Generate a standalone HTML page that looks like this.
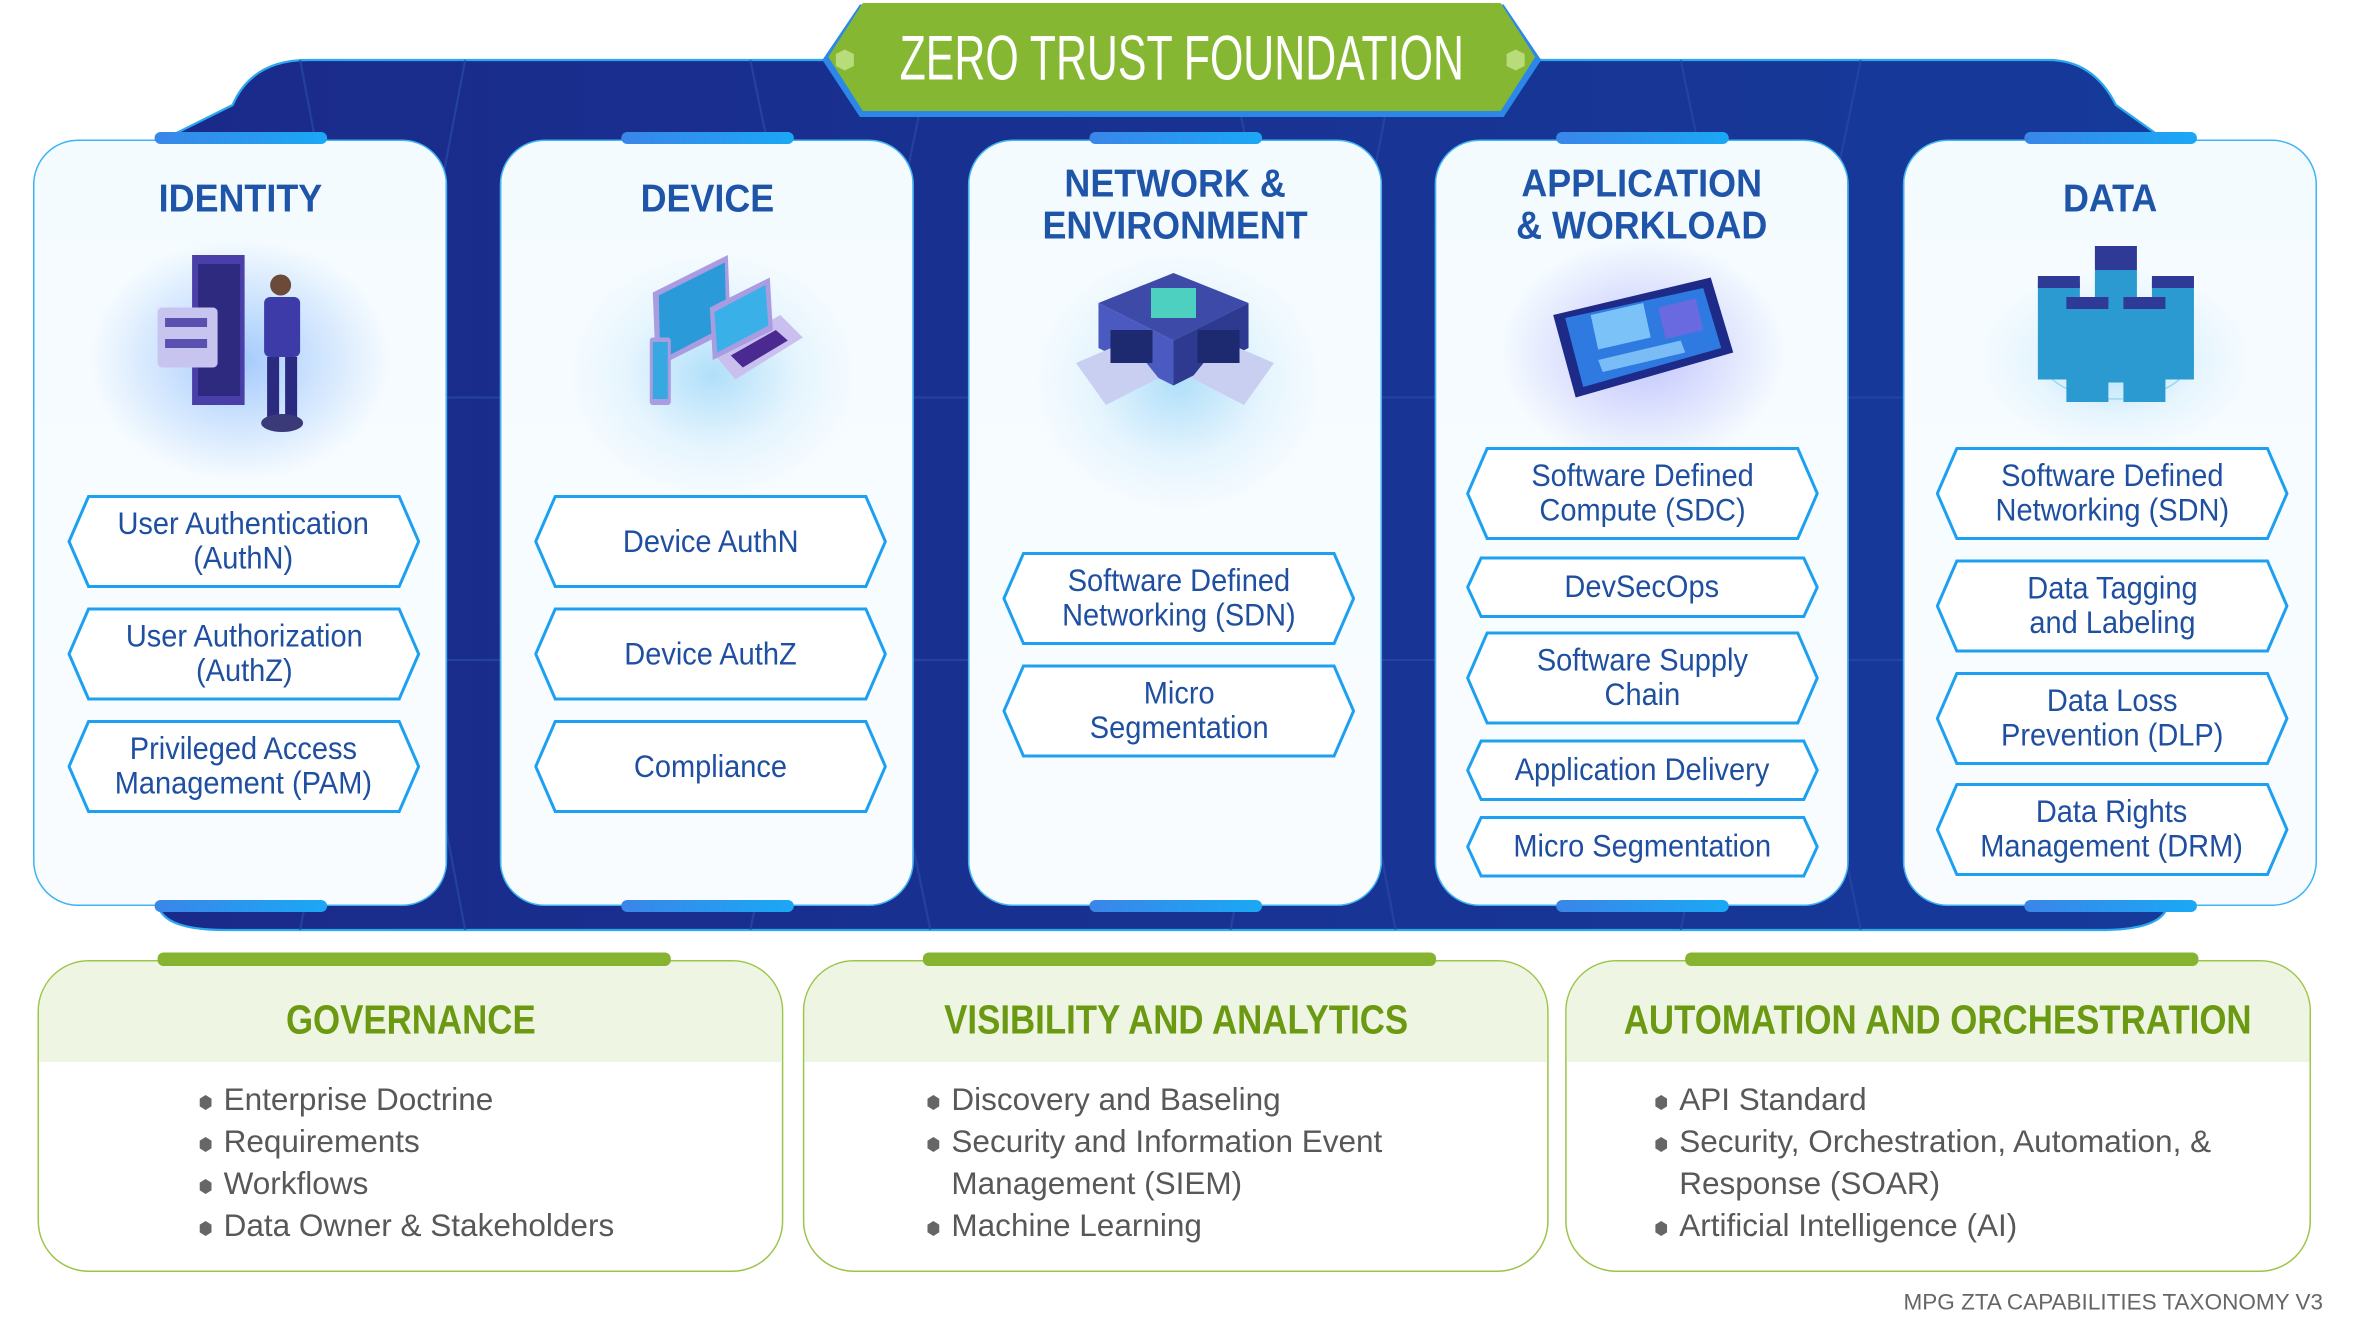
<!DOCTYPE html>
<html><head><meta charset="utf-8">
<style>
body{margin:0;width:2353px;height:1338px;overflow:hidden;background:#fff;}
#w{position:absolute;left:0;top:0;width:1568px;height:892px;transform-origin:0 0;transform:scale(1.50064,1.5);font-family:"Liberation Sans",sans-serif;}
.a{position:absolute;}
.panel{position:absolute;top:93px;width:276px;height:511px;border:1.5px solid #3fb4f5;border-radius:30px;background:linear-gradient(#f4fbff,#f9fcff);box-sizing:border-box;}
.tab{position:absolute;height:8px;width:115px;border-radius:4px;background:linear-gradient(90deg,#3a86e8,#1aa8f5);}
.ttl{position:absolute;width:276px;text-align:center;color:#1f55a8;font-weight:bold;font-size:26px;line-height:28px;}
.ttl span{display:inline-block;transform:scaleX(.92);}
.pill{position:absolute;width:235px;display:flex;align-items:center;justify-content:center;text-align:center;color:#1f4fa0;font-size:21px;line-height:23px;}
.pill svg{position:absolute;left:0;top:0;width:100%;height:100%;}
.pill span{position:relative;display:inline-block;transform:scaleX(.92);}
.glow{position:absolute;border-radius:50%;background:radial-gradient(closest-side,rgba(120,200,245,.55),rgba(180,225,250,.25) 60%,rgba(255,255,255,0));}
.box{position:absolute;top:640px;width:497px;height:208px;border:1.5px solid #9cc54a;border-radius:34px;background:#fff;box-sizing:border-box;overflow:hidden;}
.box .hd{height:67px;background:#eef5e2;color:#6b9a12;font-weight:bold;font-size:27px;line-height:78px;text-align:center;white-space:nowrap;}
.box .hd span{display:inline-block;transform:scaleX(.86);}
.gtab{position:absolute;top:635px;height:9px;border-radius:4px;background:#86b330;}
ul{margin:0;padding:0;list-style:none;position:absolute;top:720px;color:#585858;font-size:21px;line-height:28px;}
li{position:relative;padding-left:16px;}
li:before{content:"";position:absolute;left:0;top:10px;width:8px;height:10px;background:#666;clip-path:polygon(50% 0,100% 25%,100% 75%,50% 100%,0 75%,0 25%);}
</style></head><body><div id="w">
<svg class="a" style="left:0;top:0" width="1568" height="640">
<defs><linearGradient id="bg" x1="0" x2="1"><stop offset="0" stop-color="#1a2a8a"/><stop offset="1" stop-color="#163a9a"/></linearGradient></defs>
<path d="M105 95 L155 70 Q168 40 205 40 L1365 40 Q1395 40 1410 70 L1445 95 L1445 600 Q1445 620 1400 620 L150 620 Q105 620 105 600 Z" fill="url(#bg)" stroke="#2aa8f0" stroke-width="1.5"/>
<g stroke="#2a48a8" stroke-width="1.5" fill="none" opacity=".7">
<path d="M200 40 L310 620 M310 40 L200 620 M500 40 L620 620 M620 40 L500 620 M820 40 L930 620 M930 40 L820 620 M1120 40 L1240 620 M1240 40 L1120 620 M130 265 L1440 265 M130 440 L1440 440"/></g>
</svg>
<svg class="a" style="left:545px;top:0" width="485" height="82">
<polygon points="28,3 457,3 482,40 457,78 28,78 3,40" fill="#2b88e8"/>
<polygon points="30,2 455,2 478,38 455,74 30,74 7,38" fill="#86b733"/>
<polygon points="18,33 24,36 24,44 18,47 12,44 12,36" fill="#b9dc7a"/>
<polygon points="465,33 471,36 471,44 465,47 459,44 459,36" fill="#b9dc7a"/>
</svg>
<div class="a" style="left:550px;top:14px;width:475px;display:flex;justify-content:center;color:#fff;font-size:42px;line-height:50px;white-space:nowrap;"><span style="display:inline-block;flex:none;transform:scaleX(.68)">ZERO TRUST FOUNDATION</span></div>

<div class="panel" style="left:22px"></div><div class="panel" style="left:333px"></div><div class="panel" style="left:645px"></div><div class="panel" style="left:956px"></div><div class="panel" style="left:1268px"></div>
<div class="tab" style="left:103px;top:88px"></div><div class="tab" style="left:414px;top:88px"></div><div class="tab" style="left:726px;top:88px"></div><div class="tab" style="left:1037px;top:88px"></div><div class="tab" style="left:1349px;top:88px"></div>
<div class="tab" style="left:103px;top:600px"></div><div class="tab" style="left:414px;top:600px"></div><div class="tab" style="left:726px;top:600px"></div><div class="tab" style="left:1037px;top:600px"></div><div class="tab" style="left:1349px;top:600px"></div>

<div class="ttl" style="left:22px;top:118px"><span>IDENTITY</span></div>
<div class="ttl" style="left:333px;top:118px"><span>DEVICE</span></div>
<div class="ttl" style="left:645px;top:108px"><span>NETWORK &amp;<br>ENVIRONMENT</span></div>
<div class="ttl" style="left:956px;top:108px"><span>APPLICATION<br>&amp; WORKLOAD</span></div>
<div class="ttl" style="left:1268px;top:118px"><span>DATA</span></div>

<div class="glow" style="left:60px;top:160px;width:200px;height:160px;background:radial-gradient(closest-side,rgba(110,170,250,.6),rgba(255,255,255,0))"></div>
<svg class="a" style="left:100px;top:160px" width="140" height="150">
<rect x="28" y="10" width="35" height="100" fill="#4a3fa8"/><rect x="32" y="16" width="28" height="88" fill="#2d2a80"/>
<rect x="5" y="45" width="40" height="40" rx="3" fill="#c7c4ef"/><rect x="10" y="52" width="28" height="6" fill="#5a50b0"/><rect x="10" y="66" width="28" height="6" fill="#5a50b0"/>
<circle cx="87" cy="30" r="7" fill="#6b4a3a"/><rect x="76" y="38" width="24" height="40" rx="4" fill="#3d3ba8"/><rect x="78" y="78" width="8" height="40" fill="#2a2a80"/><rect x="90" y="78" width="8" height="40" fill="#2a2a80"/>
<ellipse cx="88" cy="122" rx="14" ry="6" fill="#3a3a78"/></svg>

<div class="glow" style="left:380px;top:170px;width:190px;height:160px"></div>
<svg class="a" style="left:425px;top:165px" width="115" height="110">
<polygon points="10,30 60,5 62,55 12,80" fill="#a99ce0"/><polygon points="14,32 58,10 59,52 15,75" fill="#2a9ad8"/>
<rect x="8" y="60" width="14" height="45" rx="2" fill="#a99ce0"/><rect x="10" y="63" width="10" height="38" fill="#38a8e0"/>
<polygon points="50,70 95,45 110,60 65,88" fill="#c9c0ef"/><polygon points="48,40 88,20 90,55 50,75" fill="#a99ce0"/><polygon points="51,43 85,25 87,52 53,70" fill="#3ab0e8"/>
<polygon points="62,72 92,55 100,62 70,80" fill="#4a2a90"/></svg>

<div class="glow" style="left:690px;top:170px;width:190px;height:170px"></div>
<svg class="a" style="left:712px;top:182px" width="142" height="100">
<polygon points="20,20 70,0 120,20 70,45" fill="#3d4aa8"/><polygon points="20,20 70,45 70,75 20,50" fill="#4a5ac0"/><polygon points="120,20 70,45 70,75 120,50" fill="#2d3a90"/>
<rect x="55" y="10" width="30" height="20" fill="#4dd0c0"/>
<polygon points="5,60 40,45 60,70 25,88" fill="#c8cff0"/><polygon points="137,60 102,45 82,70 117,88" fill="#c8cff0"/>
<rect x="28" y="38" width="28" height="22" fill="#1e2a70"/><rect x="86" y="38" width="28" height="22" fill="#1e2a70"/></svg>

<div class="glow" style="left:1000px;top:160px;width:190px;height:150px;background:radial-gradient(closest-side,rgba(140,140,250,.5),rgba(255,255,255,0))"></div>
<svg class="a" style="left:1025px;top:180px" width="140" height="95">
<polygon points="10,30 115,5 130,55 25,85" fill="#1d2a88"/><polygon points="18,32 110,12 122,52 30,78" fill="#2e7ae0"/>
<polygon points="35,30 70,22 75,45 40,53" fill="#8fd4ff" opacity=".8"/><polygon points="80,25 105,19 110,40 85,46" fill="#6a6ae0"/>
<polygon points="40,60 95,47 98,55 43,68" fill="#9ad8ff" opacity=".7"/></svg>

<div class="glow" style="left:1320px;top:180px;width:180px;height:120px"></div>
<svg class="a" style="left:1350px;top:158px" width="120" height="130">
<ellipse cx="60" cy="80" rx="50" ry="28" fill="none" stroke="#9ad8f0" stroke-width="1"/>
<g fill="#2a9ad0"><rect x="8" y="30" width="28" height="65"/><rect x="46" y="22" width="28" height="75"/><rect x="84" y="30" width="28" height="65"/><rect x="27" y="45" width="28" height="65"/><rect x="65" y="45" width="28" height="65"/></g>
<g fill="#2e3a96"><rect x="8" y="26" width="28" height="8"/><rect x="46" y="6" width="28" height="16"/><rect x="84" y="26" width="28" height="8"/><rect x="27" y="40" width="28" height="8"/><rect x="65" y="40" width="28" height="8"/></g>
</svg>

<div class="pill" style="left:45px;top:330px;height:62px"><svg viewBox="0 0 235 62" preserveAspectRatio="none"><polygon points="14,1 221,1 234,31 221,61 14,61 1,31" fill="#fff" stroke="#1ea0f0" stroke-width="2"/></svg><span>User Authentication<br>(AuthN)</span></div>
<div class="pill" style="left:45px;top:405px;height:62px"><svg viewBox="0 0 235 62" preserveAspectRatio="none"><polygon points="14,1 221,1 234,31 221,61 14,61 1,31" fill="#fff" stroke="#1ea0f0" stroke-width="2"/></svg><span>User Authorization<br>(AuthZ)</span></div>
<div class="pill" style="left:45px;top:480px;height:62px"><svg viewBox="0 0 235 62" preserveAspectRatio="none"><polygon points="14,1 221,1 234,31 221,61 14,61 1,31" fill="#fff" stroke="#1ea0f0" stroke-width="2"/></svg><span>Privileged Access<br>Management (PAM)</span></div>

<div class="pill" style="left:356px;top:330px;height:62px"><svg viewBox="0 0 235 62" preserveAspectRatio="none"><polygon points="14,1 221,1 234,31 221,61 14,61 1,31" fill="#fff" stroke="#1ea0f0" stroke-width="2"/></svg><span>Device AuthN</span></div>
<div class="pill" style="left:356px;top:405px;height:62px"><svg viewBox="0 0 235 62" preserveAspectRatio="none"><polygon points="14,1 221,1 234,31 221,61 14,61 1,31" fill="#fff" stroke="#1ea0f0" stroke-width="2"/></svg><span>Device AuthZ</span></div>
<div class="pill" style="left:356px;top:480px;height:62px"><svg viewBox="0 0 235 62" preserveAspectRatio="none"><polygon points="14,1 221,1 234,31 221,61 14,61 1,31" fill="#fff" stroke="#1ea0f0" stroke-width="2"/></svg><span>Compliance</span></div>

<div class="pill" style="left:668px;top:368px;height:62px"><svg viewBox="0 0 235 62" preserveAspectRatio="none"><polygon points="14,1 221,1 234,31 221,61 14,61 1,31" fill="#fff" stroke="#1ea0f0" stroke-width="2"/></svg><span>Software Defined<br>Networking (SDN)</span></div>
<div class="pill" style="left:668px;top:443px;height:62px"><svg viewBox="0 0 235 62" preserveAspectRatio="none"><polygon points="14,1 221,1 234,31 221,61 14,61 1,31" fill="#fff" stroke="#1ea0f0" stroke-width="2"/></svg><span>Micro<br>Segmentation</span></div>

<div class="pill" style="left:977px;top:298px;height:62px"><svg viewBox="0 0 235 62" preserveAspectRatio="none"><polygon points="14,1 221,1 234,31 221,61 14,61 1,31" fill="#fff" stroke="#1ea0f0" stroke-width="2"/></svg><span>Software Defined<br>Compute (SDC)</span></div>
<div class="pill" style="left:977px;top:371px;height:41px"><svg viewBox="0 0 235 41" preserveAspectRatio="none"><polygon points="10,1 225,1 234,20.5 225,40 10,40 1,20.5" fill="#fff" stroke="#1ea0f0" stroke-width="2"/></svg><span>DevSecOps</span></div>
<div class="pill" style="left:977px;top:421px;height:62px"><svg viewBox="0 0 235 62" preserveAspectRatio="none"><polygon points="14,1 221,1 234,31 221,61 14,61 1,31" fill="#fff" stroke="#1ea0f0" stroke-width="2"/></svg><span>Software Supply<br>Chain</span></div>
<div class="pill" style="left:977px;top:493px;height:41px"><svg viewBox="0 0 235 41" preserveAspectRatio="none"><polygon points="10,1 225,1 234,20.5 225,40 10,40 1,20.5" fill="#fff" stroke="#1ea0f0" stroke-width="2"/></svg><span>Application Delivery</span></div>
<div class="pill" style="left:977px;top:544px;height:41px"><svg viewBox="0 0 235 41" preserveAspectRatio="none"><polygon points="10,1 225,1 234,20.5 225,40 10,40 1,20.5" fill="#fff" stroke="#1ea0f0" stroke-width="2"/></svg><span>Micro Segmentation</span></div>

<div class="pill" style="left:1290px;top:298px;height:62px"><svg viewBox="0 0 235 62" preserveAspectRatio="none"><polygon points="14,1 221,1 234,31 221,61 14,61 1,31" fill="#fff" stroke="#1ea0f0" stroke-width="2"/></svg><span>Software Defined<br>Networking (SDN)</span></div>
<div class="pill" style="left:1290px;top:373px;height:62px"><svg viewBox="0 0 235 62" preserveAspectRatio="none"><polygon points="14,1 221,1 234,31 221,61 14,61 1,31" fill="#fff" stroke="#1ea0f0" stroke-width="2"/></svg><span>Data Tagging<br>and Labeling</span></div>
<div class="pill" style="left:1290px;top:448px;height:62px"><svg viewBox="0 0 235 62" preserveAspectRatio="none"><polygon points="14,1 221,1 234,31 221,61 14,61 1,31" fill="#fff" stroke="#1ea0f0" stroke-width="2"/></svg><span>Data Loss<br>Prevention (DLP)</span></div>
<div class="pill" style="left:1290px;top:522px;height:62px"><svg viewBox="0 0 235 62" preserveAspectRatio="none"><polygon points="14,1 221,1 234,31 221,61 14,61 1,31" fill="#fff" stroke="#1ea0f0" stroke-width="2"/></svg><span>Data Rights<br>Management (DRM)</span></div>

<div class="box" style="left:25px"><div class="hd"><span>GOVERNANCE</span></div></div>
<div class="box" style="left:535px"><div class="hd"><span>VISIBILITY AND ANALYTICS</span></div></div>
<div class="box" style="left:1043px"><div class="hd"><span>AUTOMATION AND ORCHESTRATION</span></div></div>
<div class="gtab" style="left:105px;width:342px"></div>
<div class="gtab" style="left:615px;width:342px"></div>
<div class="gtab" style="left:1123px;width:342px"></div>
<ul style="left:133px"><li>Enterprise Doctrine</li><li>Requirements</li><li>Workflows</li><li>Data Owner &amp; Stakeholders</li></ul>
<ul style="left:618px"><li>Discovery and Baseling</li><li>Security and Information Event<br>Management (SIEM)</li><li>Machine Learning</li></ul>
<ul style="left:1103px"><li>API Standard</li><li>Security, Orchestration, Automation, &amp;<br>Response (SOAR)</li><li>Artificial Intelligence (AI)</li></ul>

<div class="a" style="right:20px;top:860px;color:#666;font-size:15px;">MPG ZTA CAPABILITIES TAXONOMY V3</div>
</div></body></html>
